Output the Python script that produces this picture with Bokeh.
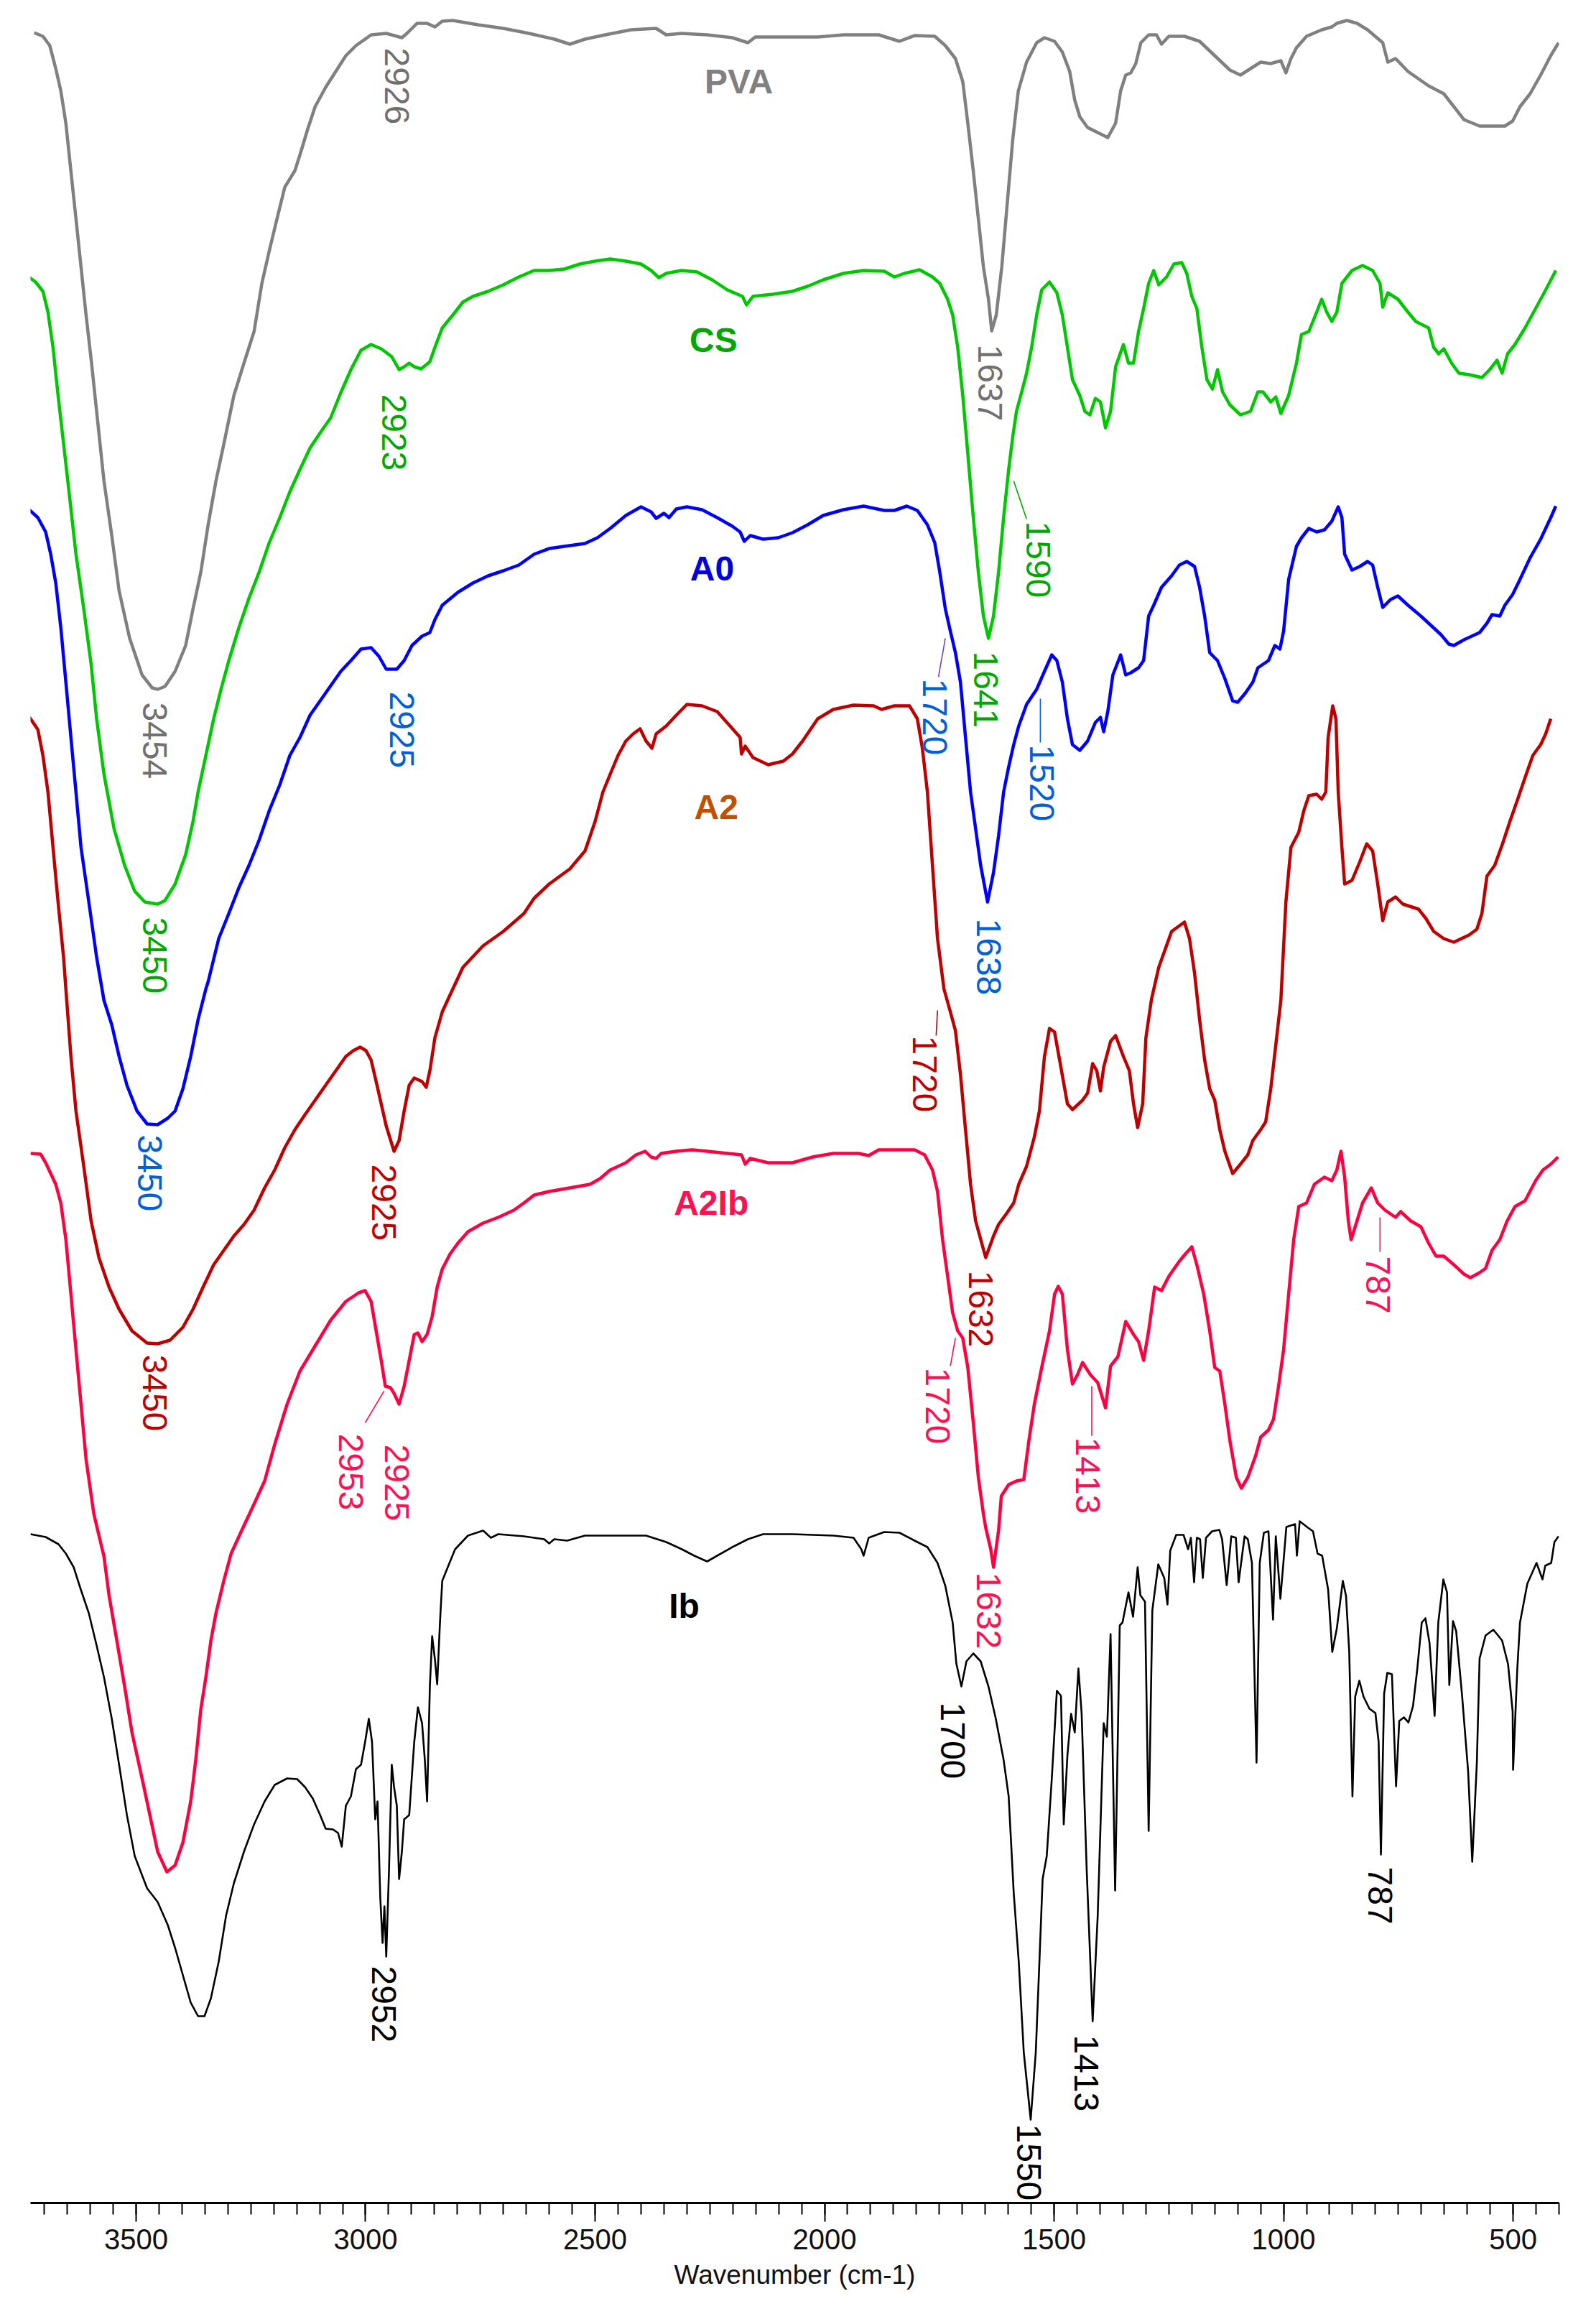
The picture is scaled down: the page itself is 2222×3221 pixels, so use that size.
import math
from bokeh.plotting import figure
from bokeh.models import Range1d, FixedTicker, ColumnDataSource
from bokeh.core.properties import value
from bokeh.embed import file_html
from bokeh.resources import INLINE

# ---------------- data: (wavenumber cm-1, offset transmittance, a.u.) ----------------
PVA = [(3722,3021),(3703,3016),(3688,3003),(3675,2971),(3664,2940),(3653,2895),(3642,2828),(3631,2762),
       (3620,2695),(3609,2628),(3597,2561),(3586,2494),(3575,2427),(3570,2397),(3553,2321),(3537,2244),
       (3514,2178),(3487,2127),(3465,2109),(3453,2107),(3437,2111),(3415,2132),(3392,2168),(3376,2219),
       (3359,2270),(3343,2336),(3326,2397),(3309,2448),(3287,2516),(3265,2561),(3243,2605),(3226,2672),
       (3210,2717),(3193,2762),(3176,2806),(3154,2829),(3143,2851),(3126,2887),(3110,2918),(3087,2945),
       (3065,2967),(3043,2989),(3021,3003),(2988,3018),(2955,3020),(2932,3016),(2921,3014),(2910,3020),
       (2888,3034),(2866,3034),(2849,3029),(2833,3037),(2810,3038),(2755,3032),(2700,3027),(2644,3020),
       (2589,3012),(2555,3005),(2522,3012),(2478,3018),(2422,3025),(2367,3027),(2345,3018),(2312,3020),
       (2256,3018),(2201,3014),(2167,3007),(2151,3015),(2070,3015),(2015,3015),(1959,3018),(1882,3018),
       (1837,3009),(1804,3017),(1760,3016),(1737,3003),(1715,2985),(1699,2953),(1688,2895),(1676,2828),
       (1665,2762),(1654,2695),(1643,2650),(1636,2606),(1626,2628),(1614,2695),(1602,2784),(1590,2873),
       (1578,2940),(1560,2980),(1538,3007),(1521,3014),(1499,3009),(1482,2994),(1466,2967),(1455,2927),
       (1444,2904),(1427,2889),(1405,2882),(1383,2875),(1366,2895),(1355,2940),(1344,2962),(1333,2965),
       (1322,2978),(1311,3007),(1294,3018),(1277,3018),(1266,3005),(1250,3016),(1216,3016),(1183,3009),
       (1150,2989),(1117,2969),(1094,2962),(1072,2971),(1050,2980),(1028,2978),(1006,2982),(995,2965),
       (984,2985),(972,3000),(950,3016),(917,3025),(895,3029),(884,3034),(862,3038),(840,3034),(817,3025),
       (784,3007),(773,2980),(756,2985),(729,2967),(684,2947),(651,2936),(629,2918),(607,2900),(573,2891),
       (540,2891),(518,2891),(501,2898),(485,2918),(463,2936),(440,2962),(418,2989),(401,3007)]

CS = [(3736,2682),(3719,2674),(3703,2661),(3692,2632),(3681,2583),(3670,2516),(3658,2449),(3647,2387),
      (3631,2295),(3614,2219),(3598,2142),(3586,2066),(3570,1989),(3548,1913),(3525,1862),(3503,1826),
      (3481,1811),(3453,1808),(3437,1813),(3415,1836),(3392,1877),(3376,1923),(3365,1964),(3348,2015),
      (3331,2066),(3315,2107),(3298,2147),(3276,2193),(3254,2234),(3232,2270),(3210,2311),(3187,2346),
      (3165,2382),(3143,2413),(3121,2443),(3099,2464),(3076,2485),(3054,2520),(3032,2552),(3010,2579),
      (2988,2587),(2966,2581),(2943,2570),(2927,2552),(2916,2556),(2905,2561),(2894,2556),(2879,2553),
      (2860,2563),(2849,2583),(2833,2610),(2810,2628),(2788,2646),(2766,2654),(2733,2661),(2700,2670),
      (2666,2681),(2633,2690),(2600,2690),(2567,2692),(2533,2699),(2500,2703),(2467,2706),(2433,2703),
      (2400,2699),(2378,2690),(2361,2680),(2345,2686),(2312,2690),(2278,2688),(2245,2677),(2212,2663),
      (2179,2654),(2170,2642),(2156,2654),(2112,2657),(2070,2661),(2037,2668),(2003,2677),(1959,2686),
      (1915,2690),(1870,2689),(1848,2681),(1826,2686),(1793,2691),(1765,2681),(1749,2672),(1732,2650),
      (1721,2628),(1710,2583),(1699,2516),(1688,2435),(1676,2346),(1665,2270),(1654,2209),(1643,2178),
      (1632,2209),(1621,2270),(1610,2346),(1599,2413),(1590,2459),(1582,2494),(1571,2520),(1560,2547),
      (1549,2583),(1538,2628),(1527,2663),(1510,2674),(1494,2659),(1482,2628),(1471,2583),(1460,2538),
      (1444,2516),(1433,2494),(1422,2489),(1410,2512),(1399,2507),(1388,2471),(1377,2494),(1366,2556),
      (1349,2587),(1338,2561),(1327,2561),(1316,2605),(1305,2637),(1294,2672),(1283,2690),(1272,2670),
      (1255,2681),(1239,2699),(1222,2701),(1211,2686),(1200,2654),(1189,2637),(1178,2583),(1167,2538),
      (1155,2525),(1144,2552),(1133,2521),(1117,2503),(1094,2489),(1072,2494),(1056,2521),(1045,2521),
      (1028,2507),(1017,2514),(1006,2491),(989,2516),(972,2561),(961,2601),(945,2605),(928,2632),
      (917,2650),(906,2632),(895,2619),(884,2632),(873,2672),(851,2690),(828,2697),(806,2690),(790,2672),
      (784,2639),(773,2659),(751,2650),(729,2632),(712,2619),(684,2610),(673,2583),(662,2574),(651,2581),
      (634,2561),(618,2547),(596,2545),(568,2541),(551,2552),(535,2565),(524,2547),(512,2574),(496,2587),
      (474,2610),(451,2637),(429,2663),(407,2690)]

A0 = [(3733,2357),(3714,2346),(3697,2326),(3686,2295),(3675,2255),(3664,2193),(3653,2117),(3642,2040),
      (3631,1964),(3620,1887),(3603,1811),(3586,1734),(3570,1674),(3553,1640),(3537,1596),(3520,1556),
      (3498,1520),(3476,1502),(3453,1501),(3431,1510),(3415,1520),(3398,1551),(3381,1596),(3365,1647),
      (3348,1690),(3343,1700),(3320,1760),(3298,1795),(3276,1831),(3254,1862),(3232,1897),(3210,1938),
      (3187,1974),(3165,2015),(3143,2040),(3121,2071),(3099,2091),(3076,2112),(3054,2132),(3032,2147),
      (3010,2163),(2988,2165),(2971,2153),(2955,2135),(2932,2135),(2916,2147),(2899,2168),(2877,2181),
      (2860,2186),(2849,2204),(2833,2224),(2799,2242),(2766,2255),(2733,2265),(2700,2272),(2666,2280),
      (2633,2295),(2600,2303),(2567,2306),(2522,2310),(2495,2318),(2467,2331),(2433,2349),(2400,2361),
      (2378,2354),(2367,2345),(2350,2352),(2339,2346),(2323,2358),(2300,2361),(2267,2357),(2234,2346),
      (2201,2334),(2184,2326),(2175,2313),(2162,2321),(2134,2316),(2101,2318),(2070,2325),(2037,2336),
      (2003,2349),(1959,2357),(1915,2362),(1870,2356),(1848,2356),(1821,2362),(1798,2356),(1776,2336),
      (1760,2311),(1749,2270),(1737,2219),(1726,2188),(1715,2158),(1704,2117),(1693,2040),(1682,1964),
      (1671,1913),(1660,1862),(1645,1811),(1632,1852),(1621,1903),(1610,1964),(1599,1999),(1588,2030),
      (1577,2056),(1560,2086),(1538,2107),(1521,2132),(1505,2155),(1494,2147),(1482,2117),(1471,2066),
      (1460,2030),(1444,2022),(1427,2035),(1410,2061),(1399,2068),(1392,2048),(1383,2076),(1372,2127),
      (1355,2155),(1344,2127),(1333,2130),(1316,2137),(1305,2147),(1294,2209),(1283,2224),(1266,2249),
      (1244,2265),(1227,2280),(1211,2285),(1194,2278),(1183,2249),(1172,2209),(1161,2158),(1144,2147),
      (1128,2122),(1111,2091),(1100,2089),(1083,2102),(1067,2117),(1056,2137),(1033,2147),(1019,2168),
      (1008,2163),(1000,2188),(989,2260),(972,2306),(961,2318),(945,2331),(928,2326),(911,2329),(895,2341),
      (881,2361),(873,2346),(867,2295),(851,2273),(834,2278),(817,2285),(806,2280),(795,2249),(784,2221),
      (767,2232),(751,2237),(729,2224),(701,2209),(679,2196),(657,2183),(640,2170),(629,2168),(607,2176),
      (573,2186),(557,2199),(546,2211),(529,2209),(518,2224),(501,2239),(485,2260),(463,2290),(440,2316),
      (418,2346),(407,2362)]

A2 = [(3744,2076),(3730,2066),(3714,2051),(3703,2015),(3692,1964),(3681,1887),(3670,1811),(3658,1734),
      (3653,1690),(3642,1596),(3631,1520),(3614,1443),(3598,1367),(3581,1316),(3559,1275),(3537,1244),
      (3509,1214),(3476,1197),(3453,1196),(3426,1201),(3398,1219),(3376,1244),(3354,1275),(3331,1306),
      (3309,1326),(3287,1346),(3265,1362),(3243,1382),(3220,1413),(3198,1438),(3176,1469),(3154,1494),
      (3132,1515),(3110,1535),(3087,1556),(3065,1576),(3043,1596),(3027,1604),(3012,1609),(2999,1604),
      (2988,1591),(2977,1561),(2966,1530),(2955,1499),(2938,1464),(2927,1479),(2916,1520),(2905,1556),
      (2894,1566),(2877,1561),(2868,1553),(2860,1576),(2849,1622),(2833,1658),(2815,1683),(2788,1720),
      (2744,1750),(2700,1770),(2655,1795),(2633,1816),(2600,1836),(2555,1857),(2522,1882),(2500,1923),
      (2483,1964),(2467,1989),(2450,2015),(2433,2035),(2417,2045),(2402,2052),(2389,2035),(2376,2025),
      (2367,2045),(2345,2056),(2323,2071),(2300,2086),(2267,2084),(2234,2076),(2206,2056),(2184,2040),
      (2181,2017),(2173,2028),(2156,2012),(2123,2002),(2090,2007),(2070,2017),(2048,2035),(2015,2066),
      (1981,2079),(1937,2085),(1893,2084),(1876,2079),(1848,2084),(1815,2084),(1798,2066),(1787,2025),
      (1776,1964),(1765,1862),(1754,1760),(1740,1690),(1726,1658),(1715,1632),(1704,1571),(1693,1494),
      (1682,1418),(1671,1367),(1649,1316),(1632,1346),(1621,1362),(1604,1377),(1588,1392),(1577,1418),
      (1560,1443),(1543,1484),(1532,1520),(1521,1596),(1510,1635),(1499,1630),(1488,1591),(1471,1530),
      (1460,1522),(1438,1535),(1427,1545),(1416,1586),(1407,1576),(1399,1548),(1392,1581),(1377,1617),
      (1366,1625),(1349,1596),(1336,1576),(1327,1530),(1318,1497),(1307,1530),(1300,1622),(1288,1675),
      (1272,1720),(1244,1770),(1216,1783),(1205,1760),(1194,1712),(1183,1647),(1172,1591),(1161,1551),
      (1150,1535),(1139,1494),(1128,1464),(1111,1433),(1094,1446),(1078,1459),(1067,1479),(1050,1494),
      (1039,1505),(1028,1551),(1017,1612),(1006,1674),(995,1811),(984,1887),(967,1908),(956,1938),
      (945,1959),(928,1961),(917,1954),(908,1964),(903,2040),(893,2084),(886,2066),(881,1964),(873,1887),
      (867,1836),(851,1841),(834,1867),(819,1892),(806,1882),(795,1836),(784,1785),(773,1811),(756,1818),
      (740,1808),(706,1801),(690,1788),(673,1770),(651,1760),(629,1755),(596,1765),(579,1773),(568,1795),
      (557,1847),(540,1862),(523,1892),(507,1923),(490,1954),(474,1984),(457,2015),(440,2030),(429,2045),
      (418,2066)]

A2IB = [(3730,1461),(3708,1460),(3697,1448),(3686,1433),(3675,1418),(3664,1392),(3653,1341),(3642,1265),
        (3631,1188),(3620,1112),(3609,1035),(3592,959),(3570,900),(3559,846),(3542,783),
        (3525,719),(3509,655),(3487,591),(3470,540),(3453,489),(3433,461),(3415,470),(3398,502),
        (3381,559),(3370,617),(3359,687),(3348,732),(3337,783),(3326,821),(3309,866),(3293,904),
        (3270,936),(3248,966),(3220,1005),(3198,1056),(3171,1112),(3143,1158),(3110,1193),(3076,1229),
        (3043,1255),(3015,1267),(3001,1270),(2988,1255),(2977,1214),(2966,1173),(2957,1137),(2946,1135),
        (2938,1127),(2927,1112),(2916,1137),(2905,1173),(2894,1209),(2886,1211),(2877,1199),(2866,1209),
        (2855,1234),(2844,1275),(2833,1300),(2816,1321),(2799,1336),(2777,1352),(2744,1364),(2711,1372),
        (2677,1382),(2655,1392),(2633,1403),(2600,1408),(2555,1413),(2511,1418),(2489,1426),(2467,1438),
        (2433,1448),(2411,1459),(2391,1464),(2378,1456),(2367,1454),(2356,1461),(2323,1464),(2289,1466),
        (2256,1464),(2212,1461),(2181,1459),(2173,1446),(2162,1454),(2123,1448),(2070,1448),(2026,1456),
        (1981,1461),(1926,1461),(1904,1458),(1882,1466),(1848,1466),(1804,1466),(1782,1459),(1765,1438),
        (1754,1408),(1743,1341),(1732,1290),(1721,1239),(1710,1214),(1699,1204),(1688,1163),(1676,1086),
        (1665,1010),(1654,959),(1649,940),(1638,910),(1632,885),(1621,936),(1615,984),(1599,1000),
        (1582,1005),(1566,1007),(1555,1061),(1543,1112),(1527,1163),(1510,1214),(1499,1265),(1491,1276),
        (1482,1265),(1471,1188),(1460,1140),(1449,1153),(1438,1170),(1421,1153),(1405,1142),(1388,1107),
        (1377,1165),(1361,1178),(1344,1227),(1327,1209),(1316,1199),(1305,1173),(1294,1214),(1281,1275),
        (1266,1270),(1250,1290),(1227,1311),(1214,1321),(1200,1331),(1189,1306),(1174,1265),(1161,1214),
        (1150,1163),(1139,1158),(1128,1112),(1117,1061),(1103,1010),(1092,995),(1078,1010),(1061,1040),
        (1050,1066),(1033,1076),(1022,1091),(1011,1137),(1000,1188),(989,1265),(978,1341),(967,1387),
        (950,1392),(933,1418),(911,1428),(895,1423),(884,1438),(875,1464),(867,1428),(859,1367),(853,1341),
        (845,1357),(828,1392),(809,1413),(795,1392),(779,1382),(756,1372),(745,1380),(723,1367),(701,1359),
        (684,1336),(668,1318),(651,1318),(629,1306),(607,1293),(593,1288),(573,1295),(560,1301),(546,1326),
        (529,1341),(513,1367),(496,1387),(474,1395),(451,1423),(435,1438),(418,1446),(402,1456)]

IB = [(3730,931),(3697,927),(3669,917),(3653,904),(3636,885),(3620,853),(3603,821),(3586,776),(3570,732),
      (3553,674),(3537,610),(3520,540),(3503,483),(3476,438),(3453,419),(3431,387),(3415,355),(3398,317),
      (3381,279),(3365,260),(3351,260),(3337,285),(3320,336),(3304,400),(3287,445),(3265,489),(3243,527),
      (3220,559),(3198,582),(3171,591),(3149,590),(3132,579),(3115,563),(3099,540),(3087,521),(3071,520),
      (3060,515),(3052,496),(3043,553),(3032,566),(3021,604),(3010,610),(3001,642),(2993,674),(2986,642),
      (2979,534),(2974,559),(2968,425),(2963,362),(2959,413),(2955,343),(2949,464),(2943,610),(2938,579),
      (2932,553),(2927,451),(2921,489),(2916,534),(2905,540),(2894,642),(2886,690),(2877,668),(2871,617),
      (2866,559),(2860,719),(2855,789),(2849,757),(2844,722),(2838,808),(2833,866),(2821,885),(2805,910),
      (2777,929),(2744,936),(2727,926),(2711,931),(2655,928),(2611,924),(2600,918),(2589,924),(2561,922),
      (2522,929),(2456,929),(2389,929),(2345,920),(2311,910),(2284,901),(2256,893),(2234,901),(2201,913),
      (2167,924),(2134,931),(2070,931),(1981,929),(1937,926),(1920,910),(1915,901),(1904,926),(1870,934),
      (1837,933),(1804,922),(1776,913),(1754,891),(1737,859),(1721,808),(1713,751),(1702,719),(1691,754),
      (1676,765),(1660,754),(1643,719),(1627,674),(1610,617),(1599,566),(1588,432),(1577,336),(1566,209),
      (1551,116),(1540,209),(1532,336),(1525,451),(1516,483),(1505,591),(1494,713),(1485,706),(1479,527),
      (1471,623),(1463,681),(1455,655),(1447,744),(1440,681),(1429,464),(1416,253),(1405,400),(1392,668),
      (1385,649),(1377,792),(1367,435),(1357,804),(1351,808),(1338,850),(1328,816),(1318,885),(1312,846),
      (1302,837),(1294,518),(1286,825),(1273,889),(1260,870),(1253,833),(1247,908),(1234,930),(1218,930),
      (1208,910),(1202,926),(1195,864),(1189,926),(1182,924),(1176,870),(1169,926),(1156,935),(1140,937),
      (1134,924),(1124,860),(1114,928),(1104,926),(1098,864),(1085,928),(1078,924),(1069,891),(1059,613),
      (1052,891),(1043,933),(1033,935),(1023,812),(1017,928),(1007,841),(994,941),(975,945),(971,901),
      (965,949),(949,941),(936,935),(926,904),(916,901),(903,854),(894,767),(884,800),(871,866),(864,845),
      (857,767),(850,566),(844,705),(835,727),(826,705),(813,688),(800,682),(793,642),(788,485),(781,709),
      (774,738),(764,736),(755,580),(748,671),(738,676),(728,669),(718,692),(709,742),(699,808),(691,814),
      (682,779),(671,678),(663,808),(652,868),(644,850),(639,721),(631,810),(624,796),(611,705),(598,601),
      (589,475),(579,613),(573,758),(560,790),(543,798),(524,783),(511,750),(501,684),(500,603),(491,742),
      (485,808),(469,862),(449,891),(436,868),(430,887),(417,891),(410,920),(401,928)]

SERIES = [("PVA", PVA, "#808080", 4.5), ("CS", CS, "#00c800", 4.5), ("A0", A0, "#0000ff", 4.5),
          ("A2", A2, "#c00000", 4.5), ("A2Ib", A2IB, "#ff0040", 4.5), ("Ib", IB, "#000000", 2.6)]

# sample names: (text, wavenumber, level, colour)
NAMES = [("PVA", 2187, 2953, "#808080"), ("CS", 2242, 2593, "#00a800"), ("A0", 2245, 2275, "#0000e0"),
         ("A2", 2236, 1943, "#c05000"), ("A2Ib", 2247, 1392, "#ff1050"), ("Ib", 2306, 831, "#000000")]

# peak annotations: (text, wavenumber, level of label top, colour)
PEAKS = [("2926", 2932, 3000, "#707070"), ("3454", 3459, 2089, "#707070"), ("1637", 1640, 2587, "#707070"),
         ("2923", 2938, 2518, "#00a800"), ("3450", 3459, 1790, "#00a800"), ("1641", 1649, 2160, "#00a800"),
         ("1590", 1535, 2341, "#00a800"),
         ("2925", 2921, 2104, "#0060d8"), ("3450", 3470, 1487, "#0060d8"), ("1720", 1760, 2122, "#0060d8"),
         ("1520", 1527, 2030, "#0060d8"), ("1638", 1643, 1788, "#0060d8"),
         ("2925", 2960, 1446, "#c00000"), ("3450", 3459, 1181, "#c00000"), ("1720", 1782, 1625, "#c00000"),
         ("1632", 1660, 1298, "#c00000"),
         ("2925", 2932, 1056, "#ff1050"), ("2953", 3032, 1071, "#ff1050"), ("1720", 1754, 1163, "#ff1050"),
         ("1632", 1643, 878, "#ff1050"), ("1413", 1427, 1066, "#ff1050"), ("787", 795, 1318, "#ff1050"),
         ("2952", 2960, 330, "#000000"), ("1700", 1721, 697, "#000000"), ("1550", 1555, 110, "#000000"),
         ("1413", 1429, 234, "#000000"), ("787", 790, 468, "#000000")]

# leader lines: (wn0, level0, wn1, level1, colour)
LEADERS = [(1588, 2397, 1560, 2344, "#00a800"), (1737, 2178, 1752, 2124, "#6a4cc8"),
           (1530, 2094, 1530, 2033, "#0060d8"), (1754, 1660, 1757, 1625, "#c00000"),
           (2960, 1130, 3001, 1086, "#ff1050"), (1715, 1204, 1726, 1165, "#ff1050"),
           (1418, 1137, 1418, 1068, "#ff1050"), (790, 1372, 790, 1324, "#ff1050")]

X_START, X_END = 3730, 400
MAJOR_TICKS = [3500, 3000, 2500, 2000, 1500, 1000, 500]

# ---------------- figure ----------------
p = figure(frame_width=2128, frame_height=3066, output_backend="svg", toolbar_location=None,
           x_range=Range1d(X_START, X_END), y_range=Range1d(0, 3066),
           y_axis_location=None, min_border_left=42, min_border_right=36,
           min_border_top=0, min_border_bottom=139)
p.outline_line_color = None
p.xgrid.visible = False
p.ygrid.visible = False
p.background_fill_color = "white"
p.border_fill_color = "white"

for name, pts, col, lw in SERIES:
    xs = [a for a, b in pts]
    ys = [b for a, b in pts]
    p.line(xs, ys, line_color=col, line_width=lw, line_join="round")

p.segment(x0=[l[0] for l in LEADERS], y0=[l[1] for l in LEADERS],
          x1=[l[2] for l in LEADERS], y1=[l[3] for l in LEADERS],
          line_color=[l[4] for l in LEADERS], line_width=1.6)

src_pk = ColumnDataSource(dict(t=[k[0] for k in PEAKS], x=[k[1] for k in PEAKS],
                               y=[k[2] for k in PEAKS], c=[k[3] for k in PEAKS]))
p.text(x="x", y="y", text="t", source=src_pk, angle=-math.pi / 2, text_color="c",
       text_font=value("Liberation Sans"), text_font_size="48px",
       text_align="left", text_baseline="middle")

src_nm = ColumnDataSource(dict(t=[k[0] for k in NAMES], x=[k[1] for k in NAMES],
                               y=[k[2] for k in NAMES], c=[k[3] for k in NAMES]))
p.text(x="x", y="y", text="t", source=src_nm, text_color="c",
       text_font=value("Liberation Sans"), text_font_style="bold", text_font_size="48px",
       text_align="center", text_baseline="middle")

ax = p.xaxis[0]
ax.ticker = FixedTicker(ticks=MAJOR_TICKS, minor_ticks=list(range(400, 3750, 50)))
ax.axis_line_width = 3
ax.axis_line_color = "black"
ax.major_tick_line_width = 2
ax.minor_tick_line_width = 2
ax.major_tick_out = 26
ax.major_tick_in = 0
ax.minor_tick_out = 16
ax.minor_tick_in = 0
ax.major_label_text_font = "Liberation Sans"
ax.major_label_text_font_size = "40px"
ax.major_label_text_color = "#111111"
ax.major_label_standoff = 10
ax.axis_label = "Wavenumber (cm-1)"
ax.axis_label_text_font = "Liberation Sans"
ax.axis_label_text_font_size = "37px"
ax.axis_label_text_font_style = "normal"
ax.axis_label_text_color = "#111111"
ax.axis_label_standoff = 12

open("out.html", "w").write(file_html(p, INLINE))
